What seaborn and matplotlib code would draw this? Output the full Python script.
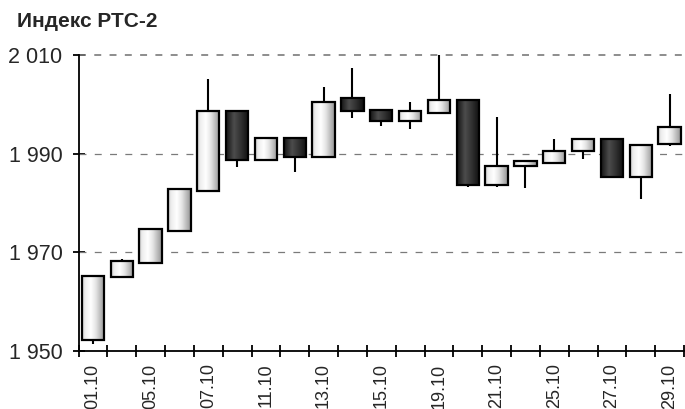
import numpy as np
import matplotlib
matplotlib.use("Agg")
import matplotlib.pyplot as plt
from matplotlib.colors import LinearSegmentedColormap
from matplotlib.ticker import FixedLocator, FuncFormatter
import seaborn as sns

sns.set_style("white")
plt.rcParams["font.family"] = ["Liberation Sans", "DejaVu Sans"]
plt.rcParams["lines.scale_dashes"] = False

# daily candles, 01.10 .. 29.10
opens = [1952.3, 1964.9, 1967.9, 1974.4, 1982.5, 1998.6, 1988.7, 1993.2, 1989.4, 2001.3, 1998.9,
         1996.7, 1998.2, 2000.9, 1983.6, 1987.5, 1988.1, 1990.5, 1992.9, 1985.2, 1992.0]
closes = [1965.2, 1968.3, 1974.8, 1982.9, 1998.6, 1988.7, 1993.2, 1989.4, 2000.5, 1998.6, 1996.7,
          1998.6, 2000.9, 1983.6, 1987.5, 1988.6, 1990.6, 1992.9, 1985.2, 1991.7, 1995.5]
highs = [1965.2, 1968.7, 1974.8, 1982.9, 2005.1, 1998.6, 1993.2, 1993.2, 2003.6, 2007.4, 1998.9,
         2000.5, 2010.0, 2000.9, 1997.5, 1988.6, 1992.9, 1992.9, 1992.9, 1991.7, 2002.1]
lows = [1951.4, 1964.9, 1967.9, 1974.4, 1982.5, 1987.3, 1988.7, 1986.2, 1989.4, 1997.3, 1995.7,
        1995.0, 1998.2, 1983.3, 1983.3, 1983.1, 1988.1, 1988.9, 1985.2, 1980.8, 1991.5]
tick_labels = ["01.10", "05.10", "07.10", "11.10", "13.10", "15.10",
               "19.10", "21.10", "25.10", "27.10", "29.10"]
y_ticks = [1950, 1970, 1990, 2010]

up_cmap = LinearSegmentedColormap.from_list(
    "up", [(0, "#c4c4c4"), (0.12, "#ececec"), (0.38, "#ffffff"), (0.6, "#e6e6e6"), (1, "#959595")])
down_cmap = LinearSegmentedColormap.from_list(
    "down", [(0, "#151515"), (0.35, "#4c4c4c"), (0.7, "#2c2c2c"), (1, "#0e0e0e")])
grad = np.linspace(0, 1, 64).reshape(1, -1)

fig = plt.figure(figsize=(6.85, 4.09), dpi=100)
ax = fig.add_axes([78.5 / 685, 1 - 351 / 409, (684 - 78.5) / 685, (351 - 55) / 409])

n = len(opens)
w = 0.78
x = np.arange(n)
for i in range(n):
    o, c, h, l = opens[i], closes[i], highs[i], lows[i]
    lo, hi = min(o, c), max(o, c)
    ax.vlines(x[i], l, h, color="black", lw=1.5, zorder=2)
    cmap = up_cmap if c >= o else down_cmap
    ax.imshow(grad, cmap=cmap, extent=(x[i] - w / 2, x[i] + w / 2, lo, hi),
              aspect="auto", interpolation="bilinear", zorder=3)
    ax.bar(x[i], hi - lo, bottom=lo, width=w, facecolor="none",
           edgecolor="black", linewidth=1.6, zorder=4)

ax.set_xlim(-0.5, n - 0.5)
ax.set_ylim(1950, 2010)

ax.yaxis.set_major_locator(FixedLocator(y_ticks))
ax.yaxis.set_major_formatter(FuncFormatter(lambda v, p: f"{int(v):,}".replace(",", " ")))
ax.xaxis.set_major_locator(FixedLocator(np.arange(n + 1) - 0.5))
ax.xaxis.set_major_formatter(FuncFormatter(lambda v, p: ""))
ax.xaxis.set_minor_locator(FixedLocator(x[::2]))
ax.set_xticklabels(tick_labels, minor=True, rotation=90, fontsize=13)

ax.tick_params(axis="both", which="major", direction="inout", length=9, width=1.3,
               color="black", bottom=True, left=True)
ax.tick_params(axis="y", labelsize=15.5, pad=7)
ax.tick_params(axis="x", which="minor", length=0, pad=9, bottom=True)

for yv in y_ticks[1:]:
    ax.axhline(yv, color="#7a7a7a", lw=1.2 if yv == 2010 else 0.9,
               ls=(0, (5, 6)), zorder=1, clip_on=False)

sns.despine(ax=ax, top=True, right=True)
for s in ["left", "bottom"]:
    ax.spines[s].set_linewidth(1.3)
    ax.spines[s].set_color("black")

fig.text(17 / 685, 1 - 27 / 409, "Индекс РТС-2", fontsize=15, fontweight="bold")

fig.savefig("out.png", dpi=100)
